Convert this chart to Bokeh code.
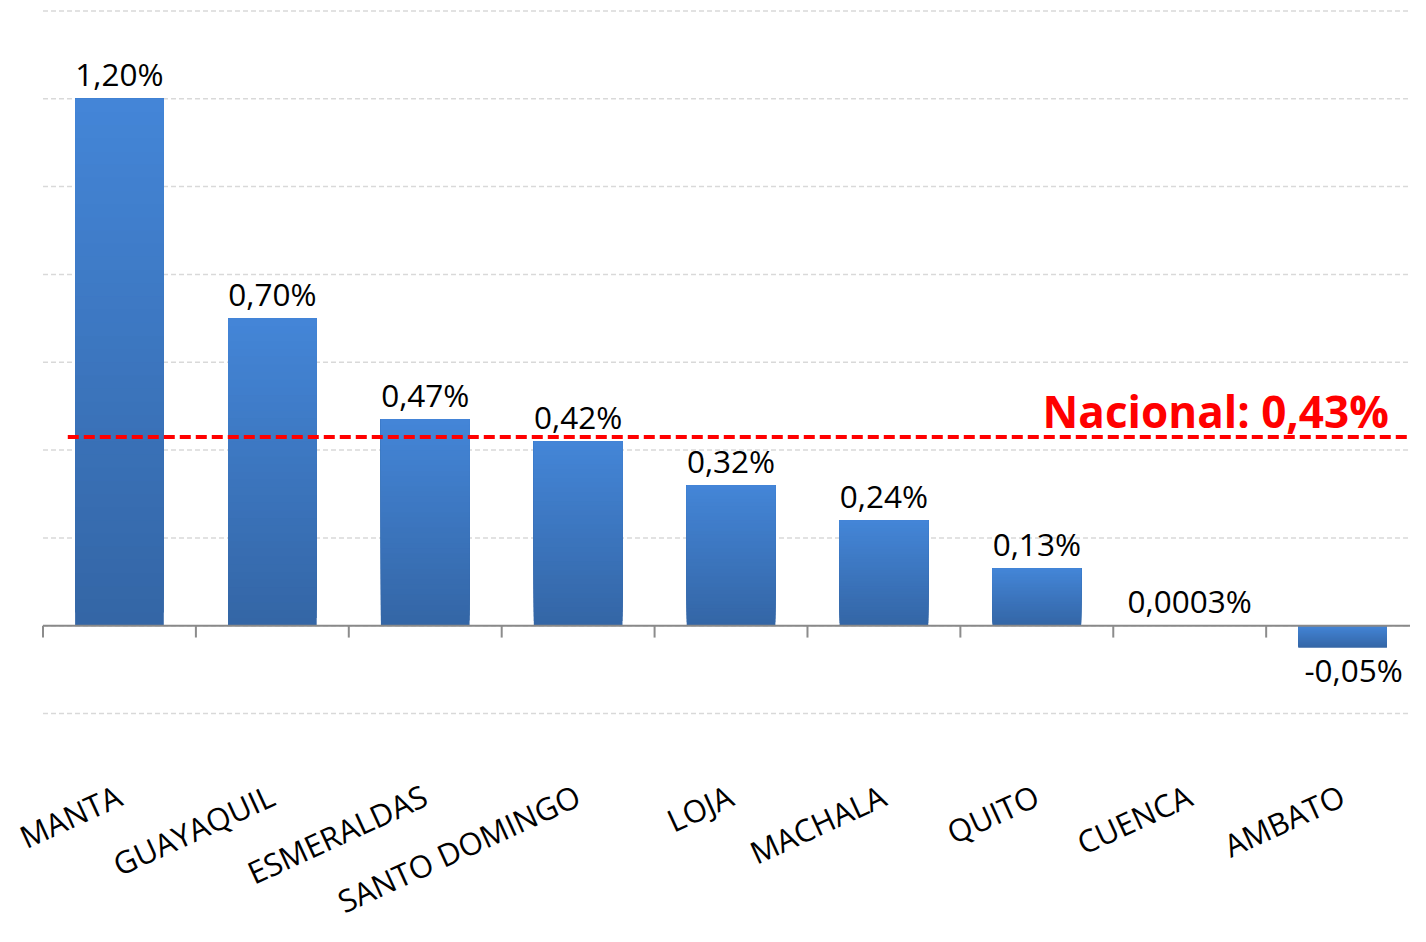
import numpy as np
from bokeh.plotting import figure
from bokeh.models import Range1d, ColumnDataSource
from bokeh.core.properties import value
from bokeh.embed import file_html
from bokeh.resources import INLINE

# ---- data ----
cities = ["MANTA", "GUAYAQUIL", "ESMERALDAS", "SANTO DOMINGO", "LOJA",
          "MACHALA", "QUITO", "CUENCA", "AMBATO"]
values = [1.20, 0.70, 0.47, 0.42, 0.32, 0.24, 0.13, 0.0003, -0.05]
value_labels = ["1,20%", "0,70%", "0,47%", "0,42%", "0,32%", "0,24%",
                "0,13%", "0,0003%", "-0,05%"]
national = 0.43
national_label = "Nacional: 0,43%"
grid_ticks = [-0.2, 0.0, 0.2, 0.4, 0.6, 0.8, 1.0, 1.2, 1.4]

FONT = "Open Sans"
xs = list(range(len(cities)))
X0, X1 = -0.778, 8.444
LEFT = -0.5

p = figure(width=1410, height=926, output_backend="svg", toolbar_location=None,
           x_range=Range1d(X0, X1), y_range=Range1d(-0.685, 1.4238),
           x_axis_location=None, y_axis_location=None,
           min_border_left=0, min_border_right=0, min_border_top=0, min_border_bottom=0)
p.grid.visible = False
p.outline_line_color = None
p.background_fill_color = "white"
p.border_fill_color = "white"

# ---- horizontal dashed gridlines ----
p.segment(x0=[LEFT] * len(grid_ticks), x1=[X1] * len(grid_ticks),
          y0=grid_ticks, y1=grid_ticks,
          line_color="#d9d9d9", line_width=1.5, line_dash="5 3")

# ---- gradient bars (dark bottom -> light top) ----
dark = np.array([52, 102, 166])
light = np.array([68, 134, 216])
N = 40
for i in range(N):
    f = i / N
    bottoms = [min(v, 0) + abs(v) * f for v in values]
    tops = [max(v, 0) for v in values]
    c = dark + (light - dark) * f
    col = "#%02x%02x%02x" % tuple(int(round(t)) for t in c)
    p.vbar(x=xs, width=0.58, bottom=bottoms, top=tops, fill_color=col, line_color=None)

# ---- zero axis line and category boundary ticks ----
p.segment(x0=[LEFT], x1=[X1], y0=[0], y1=[0], line_color="#898989", line_width=2)
p.segment(x0=[x - 0.5 for x in xs], x1=[x - 0.5 for x in xs],
          y0=[0] * len(xs), y1=[-0.027] * len(xs), line_color="#8c8c8c", line_width=2)

# ---- data labels ----
lab_src = ColumnDataSource(dict(
    x=xs, y=values, text=value_labels,
    xoff=[0 if v >= 0 else 11 for v in values],
    yoff=[-25 if v >= 0 else 22 for v in values]))
p.text(x="x", y="y", text="text", x_offset="xoff", y_offset="yoff", source=lab_src,
       text_align="center", text_baseline="alphabetic",
       text_font=value(FONT), text_font_size="31.5px", text_color="#000000")

# ---- category labels (rotated) ----
p.text(x=xs, y=[-0.3525] * len(xs), text=cities, angle=0.43,
       x_offset=-9, y_offset=-6,
       text_align="right", text_baseline="top",
       text_font=value(FONT), text_font_size="31px", text_color="#000000")

# ---- national average line ----
p.segment(x0=[-0.338], x1=[X1], y0=[national], y1=[national],
          line_color="#ff0000", line_width=4, line_dash="11 5")
p.text(x=[8.302], y=[national], text=[national_label], y_offset=-26,
       text_align="right", text_baseline="alphabetic",
       text_font=value(FONT), text_font_style="bold", text_font_size="44px",
       text_color="#ff0000")

open("out.html", "w").write(file_html(p, INLINE))
